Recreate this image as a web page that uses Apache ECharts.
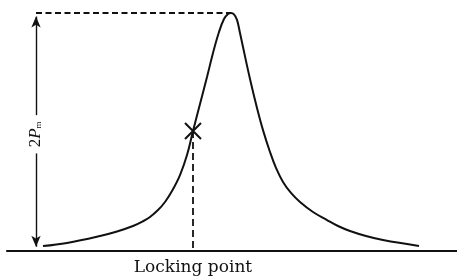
<!DOCTYPE html>
<html>
<head>
<meta charset="utf-8">
<script src="https://cdn.jsdelivr.net/npm/echarts@6/dist/echarts.min.js"></script>
<style>html,body{margin:0;padding:0;background:#fff;}#c{width:457px;height:278px;}</style>
</head>
<body>
<div id="c"></div>
<script>
// Curve: x = detuning (arbitrary units), y = power normalised to 2Pm
var curveX = [36, 60, 93, 110, 126, 136, 143, 151, 158, 165, 173, 180, 186, 193, 200, 206, 212, 217, 221, 224, 227, 230, 233, 236, 243, 250, 256, 263, 269, 276, 284, 293, 306, 320, 331, 343, 359, 376, 412];
var curveY = [0.021, 0.034, 0.063, 0.082, 0.105, 0.125, 0.143, 0.172, 0.206, 0.252, 0.319, 0.403, 0.504, 0.618, 0.731, 0.832, 0.920, 0.975, 0.996, 1.0, 0.994, 0.971, 0.916, 0.857, 0.723, 0.601, 0.508, 0.416, 0.349, 0.290, 0.244, 0.206, 0.164, 0.130, 0.105, 0.084, 0.063, 0.046, 0.021];
var lockX = 186, lockY = 0.504;
var peakX = 224, peakY = 1.0;
var arrowX = 29;
var tickValues = [186];
var tickLabels = ['Locking point'];

var chart = echarts.init(document.getElementById('c'));
var ink = '#111';
chart.setOption({
  animation: false,
  grid: {left: 7, right: 0, top: 13, bottom: 27, outerBoundsMode: 'none'},
  xAxis: {
    type: 'value', min: 0, max: 450,
    axisLine: {show: true, lineStyle: {color: ink, width: 2.2}},
    axisTick: {show: false},
    splitLine: {show: false},
    axisLabel: {
      show: true, customValues: tickValues, margin: 8,
      formatter: function (v) { return tickLabels[tickValues.indexOf(v)] || ''; },
      fontFamily: 'DejaVu Serif', fontSize: 17, color: ink
    }
  },
  yAxis: {type: 'value', min: 0, max: 1, show: false},
  series: [
    {
      type: 'line', smooth: 0.4, symbol: 'none',
      lineStyle: {color: ink, width: 2},
      data: curveX.map(function (x, i) { return [x, curveY[i]]; }),
      markLine: {
        silent: true, animation: false,
        label: {show: false},
        lineStyle: {color: ink, width: 1.4, type: 'solid'},
        symbol: ['none', 'arrow'], symbolSize: [7, 11],
        data: [
          [{coord: [arrowX, 0.571]}, {coord: [arrowX, 0.985]}],
          [{coord: [arrowX, 0.41]}, {coord: [arrowX, 0.018]}]
        ]
      }
    },
    {
      type: 'line', symbol: 'none',
      lineStyle: {color: ink, width: 1.8, type: [6, 3.5]},
      data: [[arrowX, peakY], [peakX, peakY]]
    },
    {
      type: 'line', symbol: 'none',
      lineStyle: {color: ink, width: 1.8, type: [7, 4]},
      data: [[lockX, lockY], [lockX, 0]]
    },
    {
      type: 'scatter',
      symbol: 'path://M0,0L10,10M10,0L0,10', symbolSize: 16,
      itemStyle: {color: 'rgba(0,0,0,0)', borderColor: ink, borderWidth: 2, opacity: 1},
      data: [[lockX, lockY]]
    },
    {
      type: 'scatter', symbolSize: 0.1,
      itemStyle: {color: 'rgba(0,0,0,0)', opacity: 1},
      data: [[arrowX - 1, 0.49]],
      label: {
        show: true, position: 'inside', rotate: 90,
        formatter: '{a|2}{b|P}{c|m}',
        rich: {
          a: {fontFamily: 'Liberation Serif', fontSize: 17, lineHeight: 16, color: ink, verticalAlign: 'top'},
          b: {fontFamily: 'Liberation Serif', fontStyle: 'italic', fontSize: 17, lineHeight: 16, color: ink, verticalAlign: 'top'},
          c: {fontFamily: 'Liberation Serif', fontSize: 9, lineHeight: 9, color: ink, verticalAlign: 'bottom', padding: [10, 0, 0, 0]}
        }
      }
    }
  ]
});
</script>
</body>
</html>
